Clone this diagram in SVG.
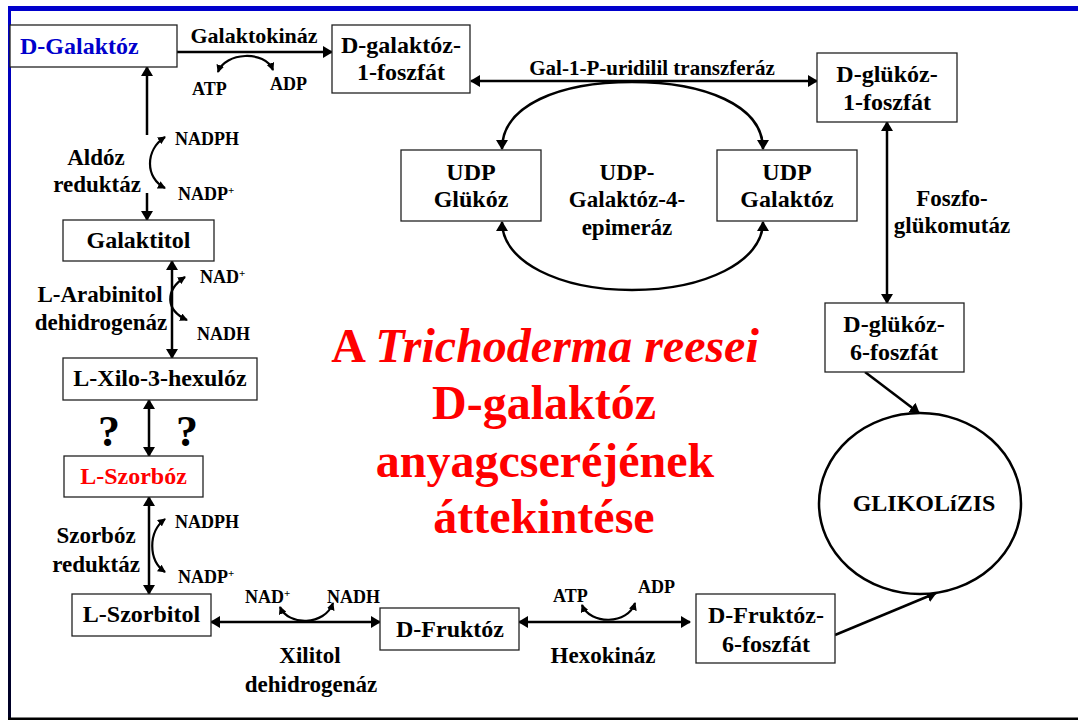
<svg xmlns="http://www.w3.org/2000/svg" width="1078" height="720" viewBox="0 0 1078 720" font-family="'Liberation Serif', 'Times New Roman', 'DejaVu Serif', serif">
  <defs>
    <linearGradient id="sideGrad" x1="0" y1="0" x2="0" y2="1">
      <stop offset="0" stop-color="#0000cc"/>
      <stop offset="1" stop-color="#000022"/>
    </linearGradient>
    <marker id="ah" viewBox="0 0 10 12" refX="9" refY="6" markerWidth="10" markerHeight="12" markerUnits="userSpaceOnUse" orient="auto-start-reverse">
      <path d="M0,0 L10,6 L0,12 z" fill="#000"/>
    </marker>
    <marker id="ahs" viewBox="0 0 8 8" refX="7" refY="4" markerWidth="8" markerHeight="8" markerUnits="userSpaceOnUse" orient="auto-start-reverse">
      <path d="M0,0 L8,4 L0,8 z" fill="#000"/>
    </marker>
    <style>
      text { font-family: "Liberation Serif", "Times New Roman", "DejaVu Serif", serif; font-weight: bold; fill: #000; }
      .box { fill: #fff; stroke: #222; stroke-width: 1.3; }
      .lbl { font-size: 24px; text-anchor: middle; }
      .enz { font-size: 23px; text-anchor: middle; }
      .cof { font-size: 18px; }
      .sup { font-size: 11px; }
      .q { font-size: 44px; text-anchor: middle; }
      .title { font-size: 48px; text-anchor: middle; fill: #ff0000; }
      .ln { fill: none; stroke: #000; stroke-width: 2.5; }
      .cl { fill: none; stroke: #000; stroke-width: 2.2; }
      .one { marker-end: url(#ah); }
      .two { marker-start: url(#ah); marker-end: url(#ah); }
      .sm { marker-start: url(#ahs); marker-end: url(#ahs); }
    </style>
  </defs>

  <!-- slide frame -->
  <rect x="0" y="0" width="1078" height="720" fill="#fff"/>
  <rect x="8" y="6" width="1070" height="5" fill="#0000cc"/>
  <rect x="8" y="6" width="3" height="714" fill="url(#sideGrad)"/>
  <rect x="8" y="717.5" width="1070" height="2.5" fill="#000"/>

  <!-- connectors -->
  <g id="connectors">
    <path class="ln one" d="M177,52 H332"/>
    <path class="cl sm" d="M218,72 C225,52 265,50 273,70"/>
    <path class="ln two" d="M471,81 H817"/>
    <path class="ln one" d="M632,82 C560,82 502,105 502,149"/>
    <path class="ln one" d="M632,82 C704,82 763,105 763,149"/>
    <path class="ln one" d="M632,290 C560,290 502,262 502,222"/>
    <path class="ln one" d="M632,290 C704,290 763,262 763,222"/>
    <path class="ln two" d="M887,122 V303"/>
    <path class="ln one" d="M865,372 L919,413"/>
    <path class="ln one" d="M835,635 L936,593"/>
    <path class="ln two" d="M519,622 H690"/>
    <path class="cl sm" d="M582,605 C590,625 628,625 635,603"/>
    <path class="ln two" d="M211,622 H380"/>
    <path class="cl sm" d="M280,607 C288,626 325,626 333,603"/>
    <path class="ln one" d="M147,135 V67"/>
    <path class="ln one" d="M147,193 V220"/>
    <path class="cl sm" d="M165,137 C145,150 145,178 165,188"/>
    <path class="ln two" d="M172,261 V358"/>
    <path class="cl sm" d="M185,277 C165,290 165,310 187,320"/>
    <path class="ln two" d="M149,400 V456"/>
    <path class="ln two" d="M149,497 V594"/>
    <path class="cl sm" d="M165,519 C148,532 148,560 165,572"/>
  </g>

  <!-- nodes -->
  <g id="d-galaktoz">
    <rect class="box" x="10" y="25" width="167" height="42"/>
    <text x="20" y="54" style="font-size:24px; fill:#0000cc">D-Galaktóz</text>
  </g>
  <g id="d-galaktoz-1-foszfat">
    <rect class="box" x="332" y="25" width="138" height="68"/>
    <text class="lbl" x="401" y="53">D-galaktóz-</text>
    <text class="lbl" x="401" y="80">1-foszfát</text>
  </g>
  <g id="d-glukoz-1-foszfat">
    <rect class="box" x="817" y="53" width="140" height="69"/>
    <text class="lbl" x="887" y="82">D-glükóz-</text>
    <text class="lbl" x="887" y="110">1-foszfát</text>
  </g>
  <g id="udp-glukoz">
    <rect class="box" x="401" y="150" width="140" height="71"/>
    <text class="lbl" x="471" y="180">UDP</text>
    <text class="lbl" x="471" y="207">Glükóz</text>
  </g>
  <g id="udp-galaktoz">
    <rect class="box" x="717" y="150" width="140" height="71"/>
    <text class="lbl" x="787" y="180">UDP</text>
    <text class="lbl" x="787" y="207">Galaktóz</text>
  </g>
  <g id="d-glukoz-6-foszfat">
    <rect class="box" x="825" y="303" width="139" height="69"/>
    <text class="lbl" x="894" y="332">D-glükóz-</text>
    <text class="lbl" x="894" y="360">6-foszfát</text>
  </g>
  <g id="glikolizis">
    <ellipse cx="920" cy="503.5" rx="101" ry="90.5" fill="#fff" stroke="#000" stroke-width="2.5"/>
    <text class="lbl" x="924" y="511">GLIKOLíZIS</text>
  </g>
  <g id="d-fruktoz-6-foszfat">
    <rect class="box" x="696" y="594" width="139" height="69"/>
    <text class="lbl" x="766" y="623">D-Fruktóz-</text>
    <text class="lbl" x="766" y="652">6-foszfát</text>
  </g>
  <g id="d-fruktoz">
    <rect class="box" x="380" y="608" width="139" height="42"/>
    <text class="lbl" x="450" y="637">D-Fruktóz</text>
  </g>
  <g id="l-szorbitol">
    <rect class="box" x="72" y="594" width="139" height="42"/>
    <text class="lbl" x="141.5" y="622">L-Szorbitol</text>
  </g>
  <g id="l-szorboz">
    <rect class="box" x="64" y="456" width="139" height="41"/>
    <text class="lbl" x="133.5" y="484" style="fill:#ff0000">L-Szorbóz</text>
  </g>
  <g id="l-xilo-3-hexuloz">
    <rect class="box" x="63" y="358" width="194" height="42"/>
    <text class="lbl" x="160" y="386">L-Xilo-3-hexulóz</text>
  </g>
  <g id="galaktitol">
    <rect class="box" x="63" y="220" width="151" height="41"/>
    <text class="lbl" x="138.5" y="248">Galaktitol</text>
  </g>

  <!-- enzyme labels -->
  <g id="enzymes">
    <text class="enz" x="254" y="43" style="font-size:22px">Galaktokináz</text>
    <text class="enz" x="652" y="75" style="font-size:21px">Gal-1-P-uridilil transzferáz</text>
    <text class="enz" x="627" y="180">UDP-</text>
    <text class="enz" x="627" y="207">Galaktóz-4-</text>
    <text class="enz" x="627" y="235">epimeráz</text>
    <text class="enz" x="952" y="206">Foszfo-</text>
    <text class="enz" x="952" y="233">glükomutáz</text>
    <text class="enz" x="96" y="165">Aldóz</text>
    <text class="enz" x="97" y="192">reduktáz</text>
    <text class="enz" x="100" y="302">L-Arabinitol</text>
    <text class="enz" x="101" y="330">dehidrogenáz</text>
    <text class="enz" x="96" y="543">Szorbóz</text>
    <text class="enz" x="96" y="572">reduktáz</text>
    <text class="enz" x="310" y="663">Xilitol</text>
    <text class="enz" x="311" y="692">dehidrogenáz</text>
    <text class="enz" x="603" y="663">Hexokináz</text>
  </g>

  <!-- cofactors -->
  <g id="cofactors">
    <text class="cof" x="192" y="95">ATP</text>
    <text class="cof" x="270" y="90">ADP</text>
    <text class="cof" x="175" y="145">NADPH</text>
    <text class="cof" x="178" y="200">NADP<tspan class="sup" dy="-6">+</tspan></text>
    <text class="cof" x="200" y="283">NAD<tspan class="sup" dy="-6">+</tspan></text>
    <text class="cof" x="197" y="340">NADH</text>
    <text class="cof" x="175" y="528">NADPH</text>
    <text class="cof" x="178" y="583">NADP<tspan class="sup" dy="-6">+</tspan></text>
    <text class="cof" x="245" y="603">NAD<tspan class="sup" dy="-6">+</tspan></text>
    <text class="cof" x="327" y="603">NADH</text>
    <text class="cof" x="553" y="602">ATP</text>
    <text class="cof" x="638" y="593">ADP</text>
  </g>

  <!-- unknown step markers -->
  <text class="q" x="109" y="446">?</text>
  <text class="q" x="187" y="446">?</text>

  <!-- title -->
  <g id="title">
    <text class="title" x="545" y="362">A <tspan font-style="italic">Trichoderma reesei</tspan></text>
    <text class="title" x="544" y="419">D-galaktóz</text>
    <text class="title" x="545" y="477">anyagcseréjének</text>
    <text class="title" x="544" y="533">áttekintése</text>
  </g>
</svg>
